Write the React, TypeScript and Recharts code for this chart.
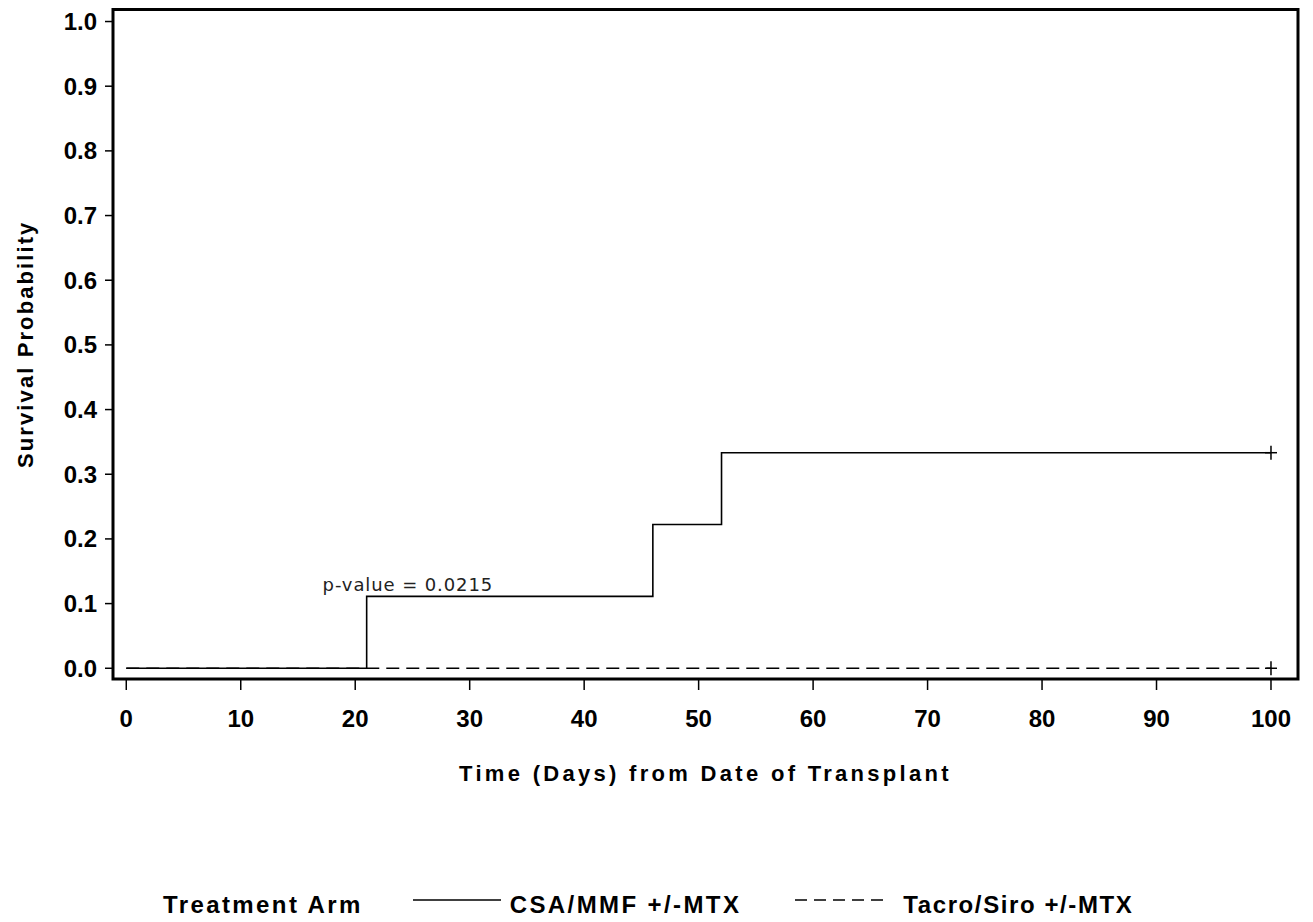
import { LineChart, Line, XAxis, YAxis, ReferenceArea, ReferenceDot, Legend, Label } from 'recharts'

// Kaplan-Meier steps
const days = [0, 21, 46, 52, 100]
const csaSurvival = [0, 0.1111, 0.2222, 0.3333, 0.3333]
const tacroSurvival = [0, 0, 0, 0, 0]

const xTicks = [0, 10, 20, 30, 40, 50, 60, 70, 80, 90, 100]
const yTicks = [0, 0.1, 0.2, 0.3, 0.4, 0.5, 0.6, 0.7, 0.8, 0.9, 1.0]

const pValueText = 'p-value = 0.0215'
const pValueDay = 24.6
const pValueSurv = 0.12

const legendTitle = 'Treatment Arm'
const armNames = ['CSA/MMF +/-MTX', 'Tacro/Siro +/-MTX']

const X_DOMAIN: [number, number] = [-1.16, 102.36]
const Y_DOMAIN: [number, number] = [-0.0166, 1.0186]

const FONT = '"Liberation Sans", Arial, sans-serif'
const data = days.map((d, i) => ({ day: d, csa: csaSurvival[i], tacro: tacroSurvival[i] }))

// censored marker ("+") only at the last observation
const censorDot = (props: any) => {
  const { cx, cy, index } = props
  if (index !== days.length - 1) return <g key={`n${index}`} />
  return (
    <g key={`c${index}`}>
      <line x1={cx - 6} x2={cx + 6} y1={cy} y2={cy} stroke="#000" strokeWidth={1.5} />
      <line x1={cx} x2={cx} y1={cy - 7} y2={cy + 7} stroke="#000" strokeWidth={1.5} />
    </g>
  )
}

const ArmLegend = () => (
  <div
    style={{
      display: 'flex',
      alignItems: 'flex-start',
      height: 30,
      paddingLeft: 163,
      fontFamily: FONT,
      fontWeight: 'bold',
      fontSize: 24,
      lineHeight: '30px',
      color: '#000',
      whiteSpace: 'nowrap',
    }}
  >
    <span style={{ letterSpacing: 2.4 }}>{legendTitle}</span>
    <svg width={88} height={30} style={{ marginLeft: 50 }}>
      <line x1={0} x2={88} y1={10} y2={10} stroke="#000" strokeWidth={1.6} />
    </svg>
    <span style={{ marginLeft: 9, letterSpacing: 2.4 }}>{armNames[0]}</span>
    <svg width={90} height={30} style={{ marginLeft: 54 }}>
      <line x1={0} x2={90} y1={10} y2={10} stroke="#000" strokeWidth={1.6} strokeDasharray="12 7" />
    </svg>
    <span style={{ marginLeft: 18, letterSpacing: 1.6 }}>{armNames[1]}</span>
  </div>
)

export default function App() {
  return (
    <div style={{ position: 'absolute', left: 0, top: 0, background: '#fff' }}>
      <LineChart width={1313} height={922} data={data} margin={{ top: 9.5, right: 15, bottom: 100, left: 0 }}>
        <XAxis
          type="number"
          dataKey="day"
          domain={X_DOMAIN}
          ticks={xTicks}
          interval={0}
          allowDataOverflow
          axisLine={false}
          tickLine={{ stroke: '#000', strokeWidth: 1.5 }}
          tickSize={11}
          tickMargin={20}
          height={143}
          tick={{ fill: '#000', fontSize: 24, fontWeight: 'bold', fontFamily: FONT }}
        >
          <Label
            value="Time (Days) from Date of Transplant"
            position="insideTop"
            offset={86}
            fill="#000"
            fontSize={22}
            fontWeight="bold"
            fontFamily={FONT}
            letterSpacing={3.3}
          />
        </XAxis>
        <YAxis
          type="number"
          domain={Y_DOMAIN}
          ticks={yTicks}
          interval={0}
          allowDataOverflow
          width={113}
          axisLine={false}
          tickLine={{ stroke: '#000', strokeWidth: 1.5 }}
          tickSize={8}
          tickMargin={8}
          tickFormatter={(v: number) => v.toFixed(1)}
          tick={{ fill: '#000', fontSize: 24, fontWeight: 'bold', fontFamily: FONT }}
        >
          <Label
            value="Survival Probability"
            angle={-90}
            position="insideLeft"
            offset={25}
            fill="#000"
            fontSize={22}
            fontWeight="bold"
            fontFamily={FONT}
            letterSpacing={2.1}
            style={{ textAnchor: 'middle' }}
          />
        </YAxis>
        <Legend
          content={<ArmLegend />}
          layout="horizontal"
          verticalAlign="middle"
          align="center"
          wrapperStyle={{ top: 890, left: 0, width: 1313, height: 30 }}
        />
        <Line
          type="stepAfter"
          dataKey="tacro"
          stroke="#000"
          strokeWidth={1.6}
          strokeDasharray="13 7"
          dot={censorDot}
          activeDot={false}
          isAnimationActive={false}
        />
        <Line
          type="stepAfter"
          dataKey="csa"
          stroke="#000"
          strokeWidth={1.6}
          dot={censorDot}
          activeDot={false}
          isAnimationActive={false}
        />
        <ReferenceDot
          x={pValueDay}
          y={pValueSurv}
          r={0}
          ifOverflow="visible"
          shape={(p: any) => (
            <text
              x={p.cx}
              y={p.cy}
              textAnchor="middle"
              fill="#222"
              fontSize={18}
              letterSpacing={0.9}
              fontFamily='"DejaVu Sans", sans-serif'
            >
              {pValueText}
            </text>
          )}
        />
        <ReferenceArea
          x1={X_DOMAIN[0]}
          x2={X_DOMAIN[1]}
          y1={Y_DOMAIN[0]}
          y2={Y_DOMAIN[1]}
          ifOverflow="visible"
          fill="none"
          stroke="#000"
          strokeWidth={3}
        />
      </LineChart>
    </div>
  )
}
